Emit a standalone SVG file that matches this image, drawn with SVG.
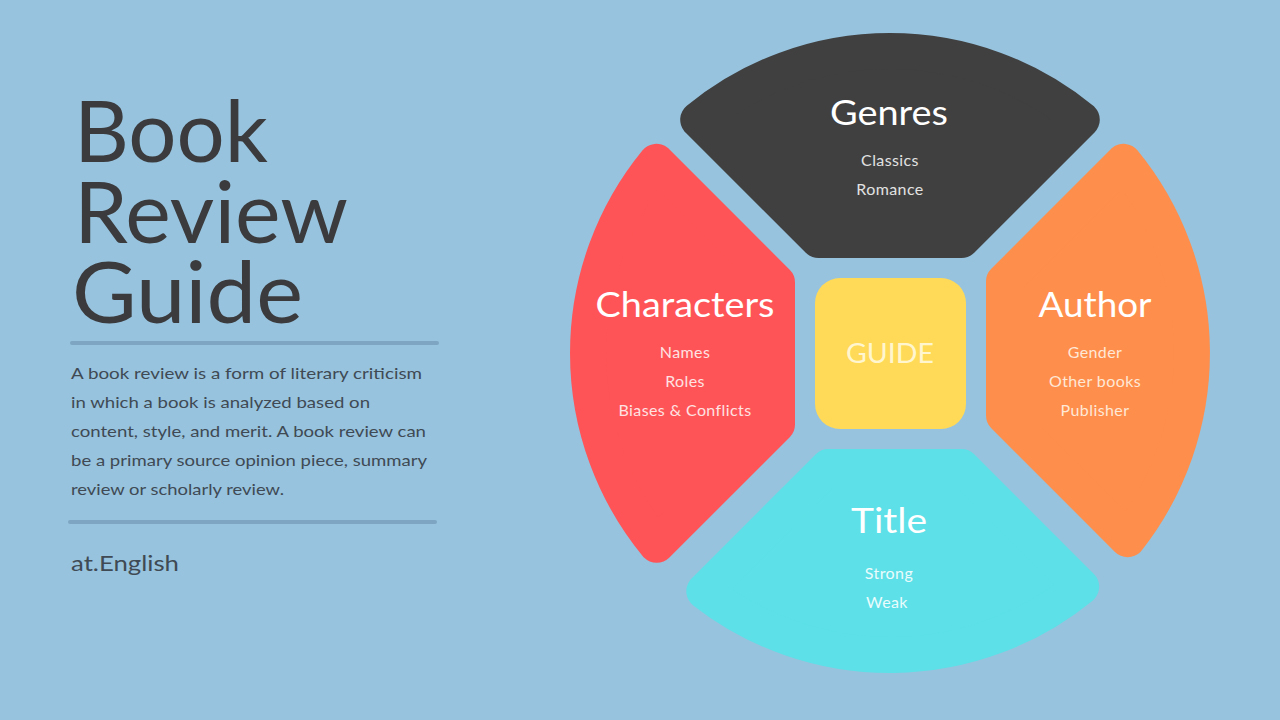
<svg xmlns="http://www.w3.org/2000/svg" width="1280" height="720" viewBox="0 0 1280 720">
<style>
.seg{stroke-width:36;stroke-linejoin:round}
.h{font-family:Lato,"Open Sans",sans-serif;font-size:34px;fill:#ffffff;text-anchor:middle}
.s{font-family:Lato,"Open Sans",sans-serif;font-size:16px;text-anchor:middle;letter-spacing:0.4px}
.title{font-family:Lato,"Open Sans",sans-serif;font-size:86px;fill:#3b3b3d}
.body{font-family:Lato,"Open Sans",sans-serif;font-size:16px;fill:#3f4a54}
.rule{stroke:#7ea6c2;stroke-width:4;stroke-linecap:round}
</style>
<rect width="1280" height="720" fill="#97c3de"/>
<g id="heading">
<text class="title" x="74" y="162" textLength="194" lengthAdjust="spacingAndGlyphs">Book</text>
<text class="title" x="74" y="243" textLength="274" lengthAdjust="spacingAndGlyphs">Review</text>
<text class="title" x="72" y="323" textLength="231" lengthAdjust="spacingAndGlyphs">Guide</text>
</g>
<line class="rule" x1="72" y1="343" x2="437" y2="343"/>
<g id="description">
<text class="body" x="71" y="379" textLength="351" lengthAdjust="spacingAndGlyphs">A book review is a form of literary criticism</text>
<text class="body" x="71" y="408" textLength="299" lengthAdjust="spacingAndGlyphs">in which a book is analyzed based on</text>
<text class="body" x="71" y="437" textLength="355" lengthAdjust="spacingAndGlyphs">content, style, and merit. A book review can</text>
<text class="body" x="71" y="466" textLength="356" lengthAdjust="spacingAndGlyphs">be a primary source opinion piece, summary</text>
<text class="body" x="71" y="495" textLength="213" lengthAdjust="spacingAndGlyphs">review or scholarly review.</text>
</g>
<line class="rule" x1="70" y1="522" x2="435" y2="522"/>
<g id="author-credit">
<text class="body" x="71" y="571" style="font-size:21px" textLength="108" lengthAdjust="spacingAndGlyphs">at.English</text>
</g>
<g id="genres">
<path class="seg" d="M818.5 240 L961.5 240 L1081.8 119.7 A302 302 0 0 0 698.2 119.7 Z" fill="#404040" stroke="#404040"/>
<text class="h" x="889" y="125" textLength="118" lengthAdjust="spacingAndGlyphs">Genres</text>
<text class="s" x="890" y="166" fill="#e2e2e2">Classics</text>
<text class="s" x="890" y="195" fill="#e2e2e2">Romance</text>
</g>
<g id="characters">
<path class="seg" d="M777 282.5 L777 424.5 L656.7 544.8 A302 302 0 0 1 656.3 161.8 Z" fill="#fe5457" stroke="#fe5457"/>
<text class="h" x="685" y="317" textLength="179" lengthAdjust="spacingAndGlyphs">Characters</text>
<text class="s" x="685" y="358" fill="#ffe2e2">Names</text>
<text class="s" x="685" y="387" fill="#ffe2e2">Roles</text>
<text class="s" x="685" y="416" fill="#ffe2e2">Biases &amp; Conflicts</text>
</g>
<g id="author">
<path class="seg" d="M1004 281.5 L1004 415.5 L1127.7 539.2 A302 302 0 0 0 1123.7 161.8 Z" fill="#fe8e4c" stroke="#fe8e4c"/>
<text class="h" x="1095" y="317" textLength="113" lengthAdjust="spacingAndGlyphs">Author</text>
<text class="s" x="1095" y="358" fill="#ffe8d6">Gender</text>
<text class="s" x="1095" y="387" fill="#ffe8d6">Other books</text>
<text class="s" x="1095" y="416" fill="#ffe8d6">Publisher</text>
</g>
<g id="title">
<path class="seg" d="M828.5 467 L961.5 467 L1081.2 586.7 A302 302 0 0 1 704.3 591.2 Z" fill="#5de0e7" stroke="#5de0e7"/>
<text class="h" x="889" y="533" textLength="76" lengthAdjust="spacingAndGlyphs">Title</text>
<text class="s" x="889" y="579" fill="#eafcfd">Strong</text>
<text class="s" x="887" y="608" fill="#eafcfd">Weak</text>
</g>
<g id="guide">
<rect x="815" y="278" width="151" height="151" rx="25" fill="#ffda58"/>
<text x="890" y="363" style="font-family:Lato,'Open Sans',sans-serif;font-size:26px;fill:#fff6cf;text-anchor:middle" textLength="88" lengthAdjust="spacingAndGlyphs">GUIDE</text>
</g>
</svg>
